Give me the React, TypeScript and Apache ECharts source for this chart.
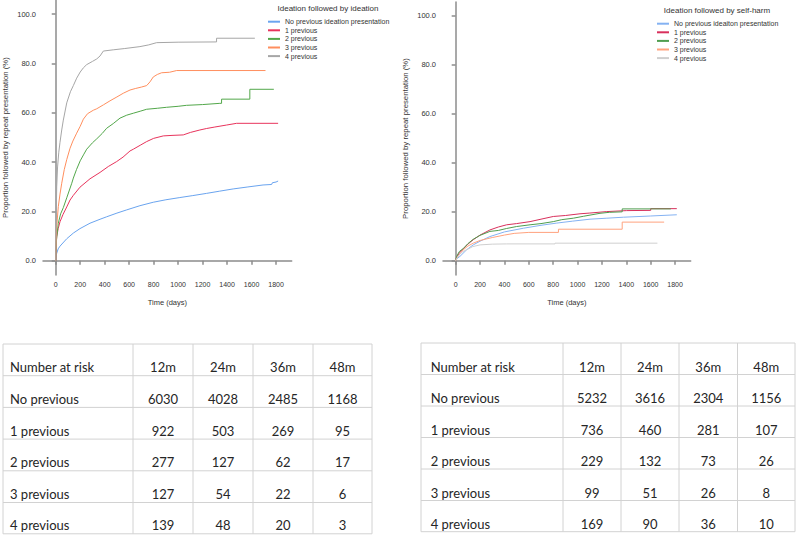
import React, { useEffect, useRef } from 'react';
import * as echarts from 'echarts';

// ---------- data ----------
const timeTicks = [0, 200, 400, 600, 800, 1000, 1200, 1400, 1600, 1800];
const pctTicks = [0, 20, 40, 60, 80, 100];

const legendIdeation = ['No previous ideation presentation', '1 previous', '2 previous', '3 previous', '4 previous'];
const legendSelfHarm = ['No previous ideaiton presentation', '1 previous', '2 previous', '3 previous', '4 previous'];
const titleIdeation = 'Ideation followed by ideation';
const titleSelfHarm = 'Ideation followed by self-harm';

// Ideation followed by ideation: [days, %]
const ideNone = [[0, 0], [3, 1.5], [8, 3], [20, 4.8], [35, 5.9], [90, 8.9], [144, 11.2], [198, 13], [280, 15.2], [362, 16.8], [416, 17.8], [500, 19.3], [580, 20.6], [688, 22.3], [797, 23.7], [900, 24.7], [1014, 25.6], [1120, 26.4], [1233, 27.3], [1340, 28.2], [1450, 29.1], [1570, 29.9], [1694, 30.7], [1764, 30.9], [1770, 31.6], [1800, 31.9], [1817, 32.3]];
const ide1 = [[0, 0], [3, 5], [8, 9.7], [20, 13], [35, 15.8], [60, 18.8], [90, 21.8], [117, 24.6], [144, 26.5], [198, 29.8], [280, 33.2], [362, 35.8], [430, 38.2], [498, 40.2], [550, 42], [607, 44.5], [634, 45.2], [690, 46.8], [743, 48.3], [800, 49.6], [879, 50.6], [950, 50.8], [1042, 51], [1100, 52], [1178, 53], [1233, 53.6], [1300, 54.2], [1396, 55], [1478, 55.7], [1817, 55.7]];
const ide2 = [[0, 0], [5, 8], [21, 15.2], [40, 19], [62, 21.5], [90, 25.5], [131, 31.4], [144, 33.5], [170, 37], [200, 40.5], [230, 43.2], [253, 45.2], [300, 47.8], [335, 49.4], [380, 51.6], [416, 53.7], [470, 55.6], [525, 57.8], [580, 59], [634, 59.8], [690, 60.6], [743, 61.4], [830, 61.8], [906, 62.2], [1000, 62.6], [1069, 63], [1200, 63.3], [1341, 63.8], [1355, 63.8], [1355, 65.5], [1586, 65.5], [1586, 69.5], [1782, 69.5]];
const ide3 = [[0, 0], [5, 12], [21, 21.9], [35, 27], [49, 31.4], [70, 37], [90, 41], [117, 45.6], [140, 48.5], [171, 51.7], [200, 54.5], [226, 57.4], [260, 59.6], [307, 61], [335, 61.6], [390, 63.2], [443, 64.8], [500, 66.4], [552, 67.9], [607, 69.2], [650, 69.8], [700, 70.4], [743, 71], [770, 72.5], [797, 74.5], [830, 75.5], [865, 76.2], [930, 76.4], [988, 77.1], [1714, 77.1]];
const ide4 = [[0, 0], [3, 15], [8, 30], [15, 38], [25, 44], [35, 48], [49, 53], [62, 57], [90, 64], [120, 68.5], [144, 71], [171, 74], [200, 76.5], [226, 78.2], [253, 79.5], [300, 80.8], [335, 81.8], [362, 83], [389, 85], [470, 85.5], [560, 86], [688, 86.8], [760, 87.5], [824, 88.4], [1000, 88.6], [1314, 88.7], [1314, 90.2], [1627, 90.2]];

// Ideation followed by self-harm: [days, %]
const shNone = [[0, 0], [8, 0.8], [35, 1.8], [90, 4.5], [144, 6.5], [200, 8], [281, 9.9], [400, 11.8], [555, 13.3], [700, 14.5], [829, 15.4], [960, 16.2], [1102, 17], [1240, 17.4], [1376, 17.8], [1600, 18.3], [1814, 18.8]];
const sh1 = [[0, 0], [8, 1.5], [30, 3.2], [62, 4.8], [100, 6.8], [144, 8.6], [200, 10.5], [281, 12.6], [350, 13.8], [418, 14.7], [500, 15.2], [610, 16], [700, 17], [801, 18.1], [900, 18.5], [1020, 19.2], [1100, 19.5], [1239, 20.1], [1403, 20.5], [1600, 20.6], [1600, 21.3], [1814, 21.3]];
const sh2 = [[0, 0], [8, 1.8], [30, 3.8], [62, 5], [100, 7], [144, 8.8], [200, 10.4], [281, 12], [350, 12.4], [418, 13.2], [500, 14], [610, 14.7], [700, 15.2], [801, 16], [870, 16.8], [965, 17.4], [1050, 18.2], [1184, 19.4], [1260, 19.8], [1366, 20], [1366, 21.2], [1765, 21.2]];
const sh3 = [[0, 0], [8, 1], [30, 2.5], [62, 4.5], [100, 6], [144, 7.2], [200, 8.3], [300, 9.5], [400, 10.5], [480, 11.2], [600, 11.6], [843, 11.6], [843, 12.9], [1366, 12.9], [1366, 15.8], [1710, 15.8]];
const sh4 = [[0, 0], [8, 0.8], [30, 2.5], [60, 3.8], [90, 4.5], [140, 5.8], [200, 6.5], [300, 6.8], [418, 6.9], [815, 6.9], [815, 7.2], [1655, 7.2]];

// Number at risk tables
const riskHeader = ['Number at risk', '12m', '24m', '36m', '48m'];
const riskRows = ['No previous', '1 previous', '2 previous', '3 previous', '4 previous'];
const riskIdeation = [[6030, 4028, 2485, 1168], [922, 503, 269, 95], [277, 127, 62, 17], [127, 54, 22, 6], [139, 48, 20, 3]];
const riskSelfHarm = [[5232, 3616, 2304, 1156], [736, 460, 281, 107], [229, 132, 73, 26], [99, 51, 26, 8], [169, 90, 36, 10]];

// ---------- styles ----------
const leftColors = ['#6aa4ef', '#e8345c', '#52a74a', '#ff8f5e', '#a6a6a6'];
const rightColors = ['#84b2f2', '#d8305c', '#4f9d4f', '#ffa27e', '#cfcfcf'];
const FONT = 'Liberation Sans, Arial, sans-serif';
const TABLE_FONT = 'Lato, "Open Sans", sans-serif';

const leftTable = { xs: [3, 133, 193, 253, 313, 372], ys: [344, 375.7, 407.4, 439.1, 470.8, 502.5, 533.8], dy: 8.6, pad: 7 };
const rightTable = { xs: [421, 563, 621, 679, 737.5, 795], ys: [343, 374.5, 406, 437.5, 469, 500.5, 531.7], dy: 7.8, pad: 9.7 };

function buildTable(layout: any, values: number[][]) {
  const els: any[] = [];
  const { xs, ys, dy, pad } = layout;
  const lineStyle = { stroke: '#d2d2d2', lineWidth: 1 };
  ys.forEach((y: number) => {
    els.push({ type: 'line', shape: { x1: xs[0], y1: y, x2: xs[xs.length - 1], y2: y }, style: lineStyle, silent: true });
  });
  xs.forEach((x: number) => {
    els.push({ type: 'line', shape: { x1: x, y1: ys[0], x2: x, y2: ys[ys.length - 1] }, style: lineStyle, silent: true });
  });
  const rows: (string | number)[][] = [riskHeader, ...riskRows.map((r, i) => [r, ...values[i]])];
  rows.forEach((row, ri) => {
    const cy = ys[ri + 1] - dy;
    row.forEach((cell, ci) => {
      const first = ci === 0;
      const x = first ? xs[0] + pad : (xs[ci] + xs[ci + 1]) / 2;
      els.push({
        type: 'text',
        x, y: cy,
        silent: true,
        style: {
          text: String(cell),
          fill: '#262626',
          font: `13px ${TABLE_FONT}`,
          align: first ? 'left' : 'center',
          textAlign: first ? 'left' : 'center',
          verticalAlign: 'middle',
          textVerticalAlign: 'middle',
        },
      });
    });
  });
  return els;
}

function axisPair(gridIndex: number) {
  const axisLine = { show: true, lineStyle: { color: '#8c8c8c', width: 1.5 } };
  const axisTick = { show: true, length: 4, lineStyle: { color: '#8c8c8c', width: 1.5 } };
  const x = {
    type: 'value', gridIndex, min: -104, max: 1928,
    name: 'Time (days)', nameLocation: 'middle', nameGap: 23,
    nameTextStyle: { fontSize: 7.5, color: '#333', fontFamily: FONT },
    axisLine, axisTick: { ...axisTick, customValues: timeTicks },
    axisLabel: { customValues: timeTicks, fontSize: 7, color: '#333', margin: 6, fontFamily: FONT, formatter: (v: number) => String(v) },
    splitLine: { show: false },
  };
  const y = {
    type: 'value', gridIndex, min: -5.8, max: 105.7,
    name: 'Proportion followed by repeat presentation (%)', nameLocation: 'middle', nameGap: 34,
    nameTextStyle: { fontSize: 7.8, color: '#333', fontFamily: FONT },
    axisLine, axisTick: { ...axisTick, customValues: pctTicks },
    axisLabel: { customValues: pctTicks, fontSize: 7.5, color: '#333', margin: 7, fontFamily: FONT, formatter: (v: number) => v.toFixed(1) },
    splitLine: { show: false },
  };
  return { x, y };
}

export default function App() {
  const ref = useRef<HTMLDivElement>(null);
  useEffect(() => {
    if (!ref.current) return;
    const chart = echarts.init(ref.current, undefined, { renderer: 'svg' });
    const a0 = axisPair(0);
    const a1 = axisPair(1);
    const leftData = [ideNone, ide1, ide2, ide3, ide4];
    const rightData = [shNone, sh1, sh2, sh3, sh4];
    const series: any[] = [];
    leftData.forEach((d, i) => series.push({
      type: 'line', name: legendIdeation[i], xAxisIndex: 0, yAxisIndex: 0, data: d,
      showSymbol: false, symbol: 'none', lineStyle: { color: leftColors[i], width: 1 }, itemStyle: { color: leftColors[i] }, silent: true,
    }));
    rightData.forEach((d, i) => series.push({
      type: 'line', name: legendSelfHarm[i], xAxisIndex: 1, yAxisIndex: 1, data: d,
      showSymbol: false, symbol: 'none', lineStyle: { color: rightColors[i], width: 1 }, itemStyle: { color: rightColors[i] }, silent: true,
    }));
    const legendCommon = {
      orient: 'vertical', itemWidth: 12, itemHeight: 2, itemGap: 0, icon: 'rect', selectedMode: false, padding: 0,
      textStyle: { fontSize: 7, lineHeight: 8.6, color: '#333', fontFamily: FONT },
    };
    chart.setOption({
      animation: false,
      backgroundColor: '#ffffff',
      grid: [
        { left: 43, top: 0, width: 248.7, height: 275 },
        { left: 443, top: 2, width: 247.7, height: 273 },
      ],
      xAxis: [a0.x, a1.x],
      yAxis: [a0.y, a1.y],
      legend: [
        { ...legendCommon, left: 268, top: 17.4, data: legendIdeation.map((n, i) => ({ name: n, itemStyle: { color: leftColors[i] } })) },
        { ...legendCommon, left: 657, top: 19.4, data: legendSelfHarm.map((n, i) => ({ name: n, itemStyle: { color: rightColors[i] } })) },
      ],
      graphic: [
        { type: 'text', x: 328, y: 8, silent: true, style: { text: titleIdeation, fill: '#333', font: `8px ${FONT}`, align: 'center', textAlign: 'center', verticalAlign: 'middle', textVerticalAlign: 'middle' } },
        { type: 'text', x: 717, y: 10.7, silent: true, style: { text: titleSelfHarm, fill: '#333', font: `8px ${FONT}`, align: 'center', textAlign: 'center', verticalAlign: 'middle', textVerticalAlign: 'middle' } },
        ...buildTable(leftTable, riskIdeation),
        ...buildTable(rightTable, riskSelfHarm),
      ],
      series,
    });
    return () => chart.dispose();
  }, []);
  return <div ref={ref} style={{ position: 'absolute', left: 0, top: 0, width: 796, height: 535 }} />;
}
